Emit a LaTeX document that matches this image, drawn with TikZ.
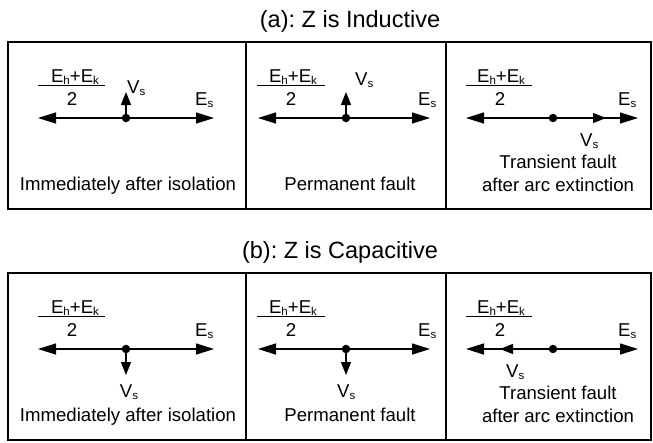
\documentclass[tikz,border=0pt]{standalone}
\usepackage{fontspec}
\setmainfont{Liberation Sans}
\usetikzlibrary{arrows.meta}
\frenchspacing
% lowered, smaller subscript letters
\newcommand\lowsub[1]{\raisebox{-2pt}{\fontsize{11.5pt}{12pt}\selectfont #1}}
\begin{document}
\begin{tikzpicture}[x=1pt,y=-1pt,
  every node/.style={inner sep=0pt, font=\fontsize{18.6pt}{23pt}\selectfont},
  title/.style={anchor=base, font=\fontsize{23.5pt}{28pt}\selectfont},
  lbl/.style={anchor=base west},
  captxt/.style={anchor=base},
  frame/.style={line width=2pt},
  bar/.style={line width=1pt},
  axis/.style={line width=1.3pt,
    {Triangle[length=18pt,width=11pt]}-{Triangle[length=18pt,width=11pt]}},
  vec/.style={line width=1.3pt, -{Triangle[length=13pt,width=10pt]}},
  dot/.style={circle, fill, minimum size=8.5pt, inner sep=0pt}]

\useasboundingbox (0,0) rectangle (653,442);

% ---------------- (a): inductive ----------------
\node[title] (ta) at (350,27) {(a): Z is Inductive};
\draw[frame] (7.5,42) rectangle (650.5,209);
\draw[frame] (246,42) -- (246,209);
\draw[frame] (446,42) -- (446,209);

% panel 1
\node[anchor=base] (na1) at (75,82) {E\lowsub{h}+E\lowsub{k}};
\node[anchor=base] (da1) at (72,105) {2};
\draw[bar] (38,85) -- (105,85);
\coordinate (La1) at (38,118);
\coordinate (Ra1) at (214,118);
\node[dot] (Pa1) at (126,118) {};
\coordinate (Va1) at (126,92);
\draw[axis] (La1) -- (Ra1);
\draw[vec] (Pa1) -- (Va1);
\node[lbl] (vsa1) at (127,93) {V\lowsub{s}};
\node[lbl] (esa1) at (195,105) {E\lowsub{s}};
\node[captxt] (ca1) at (128,190) {Immediately after isolation};

% panel 2
\node[anchor=base] (na2) at (293,82) {E\lowsub{h}+E\lowsub{k}};
\node[anchor=base] (da2) at (291,105) {2};
\draw[bar] (257,85) -- (325,85);
\coordinate (La2) at (258,118);
\coordinate (Ra2) at (430,118);
\node[dot] (Pa2) at (346,118) {};
\coordinate (Va2) at (346,92);
\draw[axis] (La2) -- (Ra2);
\draw[vec] (Pa2) -- (Va2);
\node[lbl] (vsa2) at (355,85) {V\lowsub{s}};
\node[lbl] (esa2) at (418,105) {E\lowsub{s}};
\node[captxt] (ca2) at (350,190) {Permanent fault};

% panel 3
\node[anchor=base] (na3) at (501,82) {E\lowsub{h}+E\lowsub{k}};
\node[anchor=base] (da3) at (500,105) {2};
\draw[bar] (466,85) -- (532,85);
\coordinate (La3) at (466,118);
\coordinate (Ra3) at (638,118);
\node[dot] (Pa3) at (553,118) {};
\coordinate (Va3) at (606,118);
\draw[axis] (La3) -- (Ra3);
\draw[vec] (Pa3) -- (Va3);
\node[lbl] (vsa3) at (580,146) {V\lowsub{s}};
\node[lbl] (esa3) at (618,105) {E\lowsub{s}};
\node[captxt] (ca3) at (558,168) {Transient fault};
\node[captxt] (cb3) at (558,191) {after arc extinction};

% ---------------- (b): capacitive ----------------
\begin{scope}[shift={(0,231)}]
\node[title] (tb) at (340,27) {(b): Z is Capacitive};
\draw[frame] (7.5,42) rectangle (650.5,209);
\draw[frame] (246,42) -- (246,209);
\draw[frame] (446,42) -- (446,209);

% panel 1
\node[anchor=base] (nb1) at (75,82) {E\lowsub{h}+E\lowsub{k}};
\node[anchor=base] (db1) at (72,105) {2};
\draw[bar] (38,85) -- (105,85);
\coordinate (Lb1) at (38,118);
\coordinate (Rb1) at (214,118);
\node[dot] (Pb1) at (126,118) {};
\coordinate (Vb1) at (126,144);
\draw[axis] (Lb1) -- (Rb1);
\draw[vec] (Pb1) -- (Vb1);
\node[captxt] (vsb1) at (129,166) {V\lowsub{s}};
\node[lbl] (esb1) at (195,105) {E\lowsub{s}};
\node[captxt] (cc1) at (128,190) {Immediately after isolation};

% panel 2
\node[anchor=base] (nb2) at (293,82) {E\lowsub{h}+E\lowsub{k}};
\node[anchor=base] (db2) at (291,105) {2};
\draw[bar] (257,85) -- (325,85);
\coordinate (Lb2) at (258,118);
\coordinate (Rb2) at (430,118);
\node[dot] (Pb2) at (346,118) {};
\coordinate (Vb2) at (346,144);
\draw[axis] (Lb2) -- (Rb2);
\draw[vec] (Pb2) -- (Vb2);
\node[lbl] (vsb2) at (337,166) {V\lowsub{s}};
\node[lbl] (esb2) at (418,105) {E\lowsub{s}};
\node[captxt] (cc2) at (350,190) {Permanent fault};

% panel 3
\node[anchor=base] (nb3) at (501,82) {E\lowsub{h}+E\lowsub{k}};
\node[anchor=base] (db3) at (500,105) {2};
\draw[bar] (466,85) -- (532,85);
\coordinate (Lb3) at (466,118);
\coordinate (Rb3) at (638,118);
\node[dot] (Pb3) at (553,118) {};
\coordinate (Vb3) at (500,118);
\draw[axis] (Lb3) -- (Rb3);
\draw[vec] (Pb3) -- (Vb3);
\node[lbl] (vsb3) at (506,146) {V\lowsub{s}};
\node[lbl] (esb3) at (618,105) {E\lowsub{s}};
\node[captxt] (cc3) at (558,168) {Transient fault};
\node[captxt] (cd3) at (558,191) {after arc extinction};
\end{scope}
\end{tikzpicture}
\end{document}
